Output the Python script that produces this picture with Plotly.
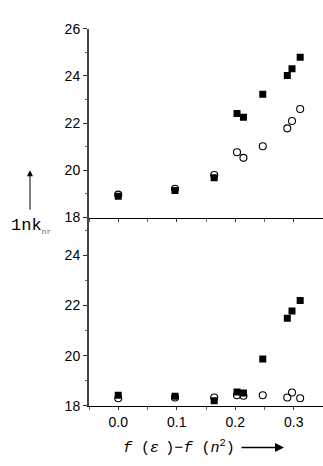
import plotly.graph_objects as go

x_vals = [0.0, 0.097, 0.164, 0.203, 0.214, 0.247, 0.289, 0.297, 0.311]
top_squares = [18.9, 19.15, 19.69, 22.41, 22.25, 23.23, 24.02, 24.31, 24.79]
top_circles = [18.97, 19.22, 19.8, 20.77, 20.53, 21.02, 21.78, 22.09, 22.6]
bot_squares = [18.42, 18.38, 18.2, 18.55, 18.51, 19.87, 21.49, 21.78, 22.2]
bot_circles = [18.3, 18.33, 18.33, 18.42, 18.4, 18.42, 18.33, 18.53, 18.3]

W, H = 323, 466
def px(x): return x / W
def py(y): return 1 - y / H

fig = go.Figure()
sq = dict(symbol="square", size=7, color="black", line=dict(width=0))
ci = dict(symbol="circle-open", size=7, color="black", line=dict(width=1.1))

fig.add_trace(go.Scatter(x=x_vals, y=top_squares, mode="markers", marker=sq, xaxis="x", yaxis="y", showlegend=False))
fig.add_trace(go.Scatter(x=x_vals, y=top_circles, mode="markers", marker=ci, xaxis="x", yaxis="y", showlegend=False))
fig.add_trace(go.Scatter(x=x_vals, y=bot_squares, mode="markers", marker=sq, xaxis="x2", yaxis="y2", showlegend=False))
fig.add_trace(go.Scatter(x=x_vals, y=bot_circles, mode="markers", marker=ci, xaxis="x2", yaxis="y2", showlegend=False))

xdom = [px(89), 1.0]
tickfont = dict(family="Liberation Sans, Arial", size=14, color="black")
common_x = dict(range=[-0.05, 0.35], domain=xdom, showgrid=False, zeroline=False,
                showline=True, linecolor="black", linewidth=1, ticks="outside",
                ticklen=3, tickcolor="#333", dtick=0.1, tick0=0,
                minor=dict(ticks="outside", ticklen=3, dtick=0.05, tickcolor="#666"))
common_y = dict(showgrid=False, zeroline=False, showline=True, linecolor="#444",
                linewidth=2, ticks="outside", ticklen=4, tickcolor="#333",
                dtick=2, tick0=18, tickfont=tickfont,
                minor=dict(ticks="outside", ticklen=2, dtick=1, tickcolor="#666"))

fig.update_layout(
    width=W, height=H, margin=dict(l=0, r=0, t=0, b=0),
    paper_bgcolor="white", plot_bgcolor="white",
    xaxis=dict(**common_x, anchor="y", showticklabels=False),
    yaxis=dict(**common_y, range=[18, 26], domain=[py(217), py(21.5)], anchor="x"),
    xaxis2=dict(**common_x, anchor="y2", showticklabels=True, tickformat=".1f", tickfont=tickfont),
    yaxis2=dict(**common_y, range=[18, 25.5], domain=[py(412), py(217)], anchor="x2"),
)

mono = dict(family="Courier New, Liberation Mono", color="black")
fig.add_annotation(xref="paper", yref="paper", x=px(9), y=py(226), xanchor="left", yanchor="middle",
                   text="1nk<sub><span style='font-size:8px;color:#666'>nr</span></sub>", showarrow=False,
                   font=dict(**mono, size=17))
fig.add_annotation(xref="paper", yref="paper", x=px(30), y=py(168), ax=0, ay=41, text="",
                   showarrow=True, arrowhead=2, arrowsize=1.2, arrowwidth=1, arrowcolor="black")
fig.add_annotation(xref="paper", yref="paper", x=px(237), y=py(455), xanchor="right", yanchor="middle",
                   text="<i>f</i> (<i>ε</i><sub> </sub>)−<i>f</i> (<i>n</i><sup>2</sup>)", showarrow=False,
                   font=dict(**mono, size=15))
fig.add_annotation(xref="paper", yref="paper", x=px(284), y=py(455), ax=-44, ay=0, text="",
                   showarrow=True, arrowhead=2, arrowsize=1.2, arrowwidth=1.5, arrowcolor="black")

fig.write_html("out.html", config={"displayModeBar": False},
               post_script="document.body.style.margin='0';document.body.style.overflow='hidden';")
